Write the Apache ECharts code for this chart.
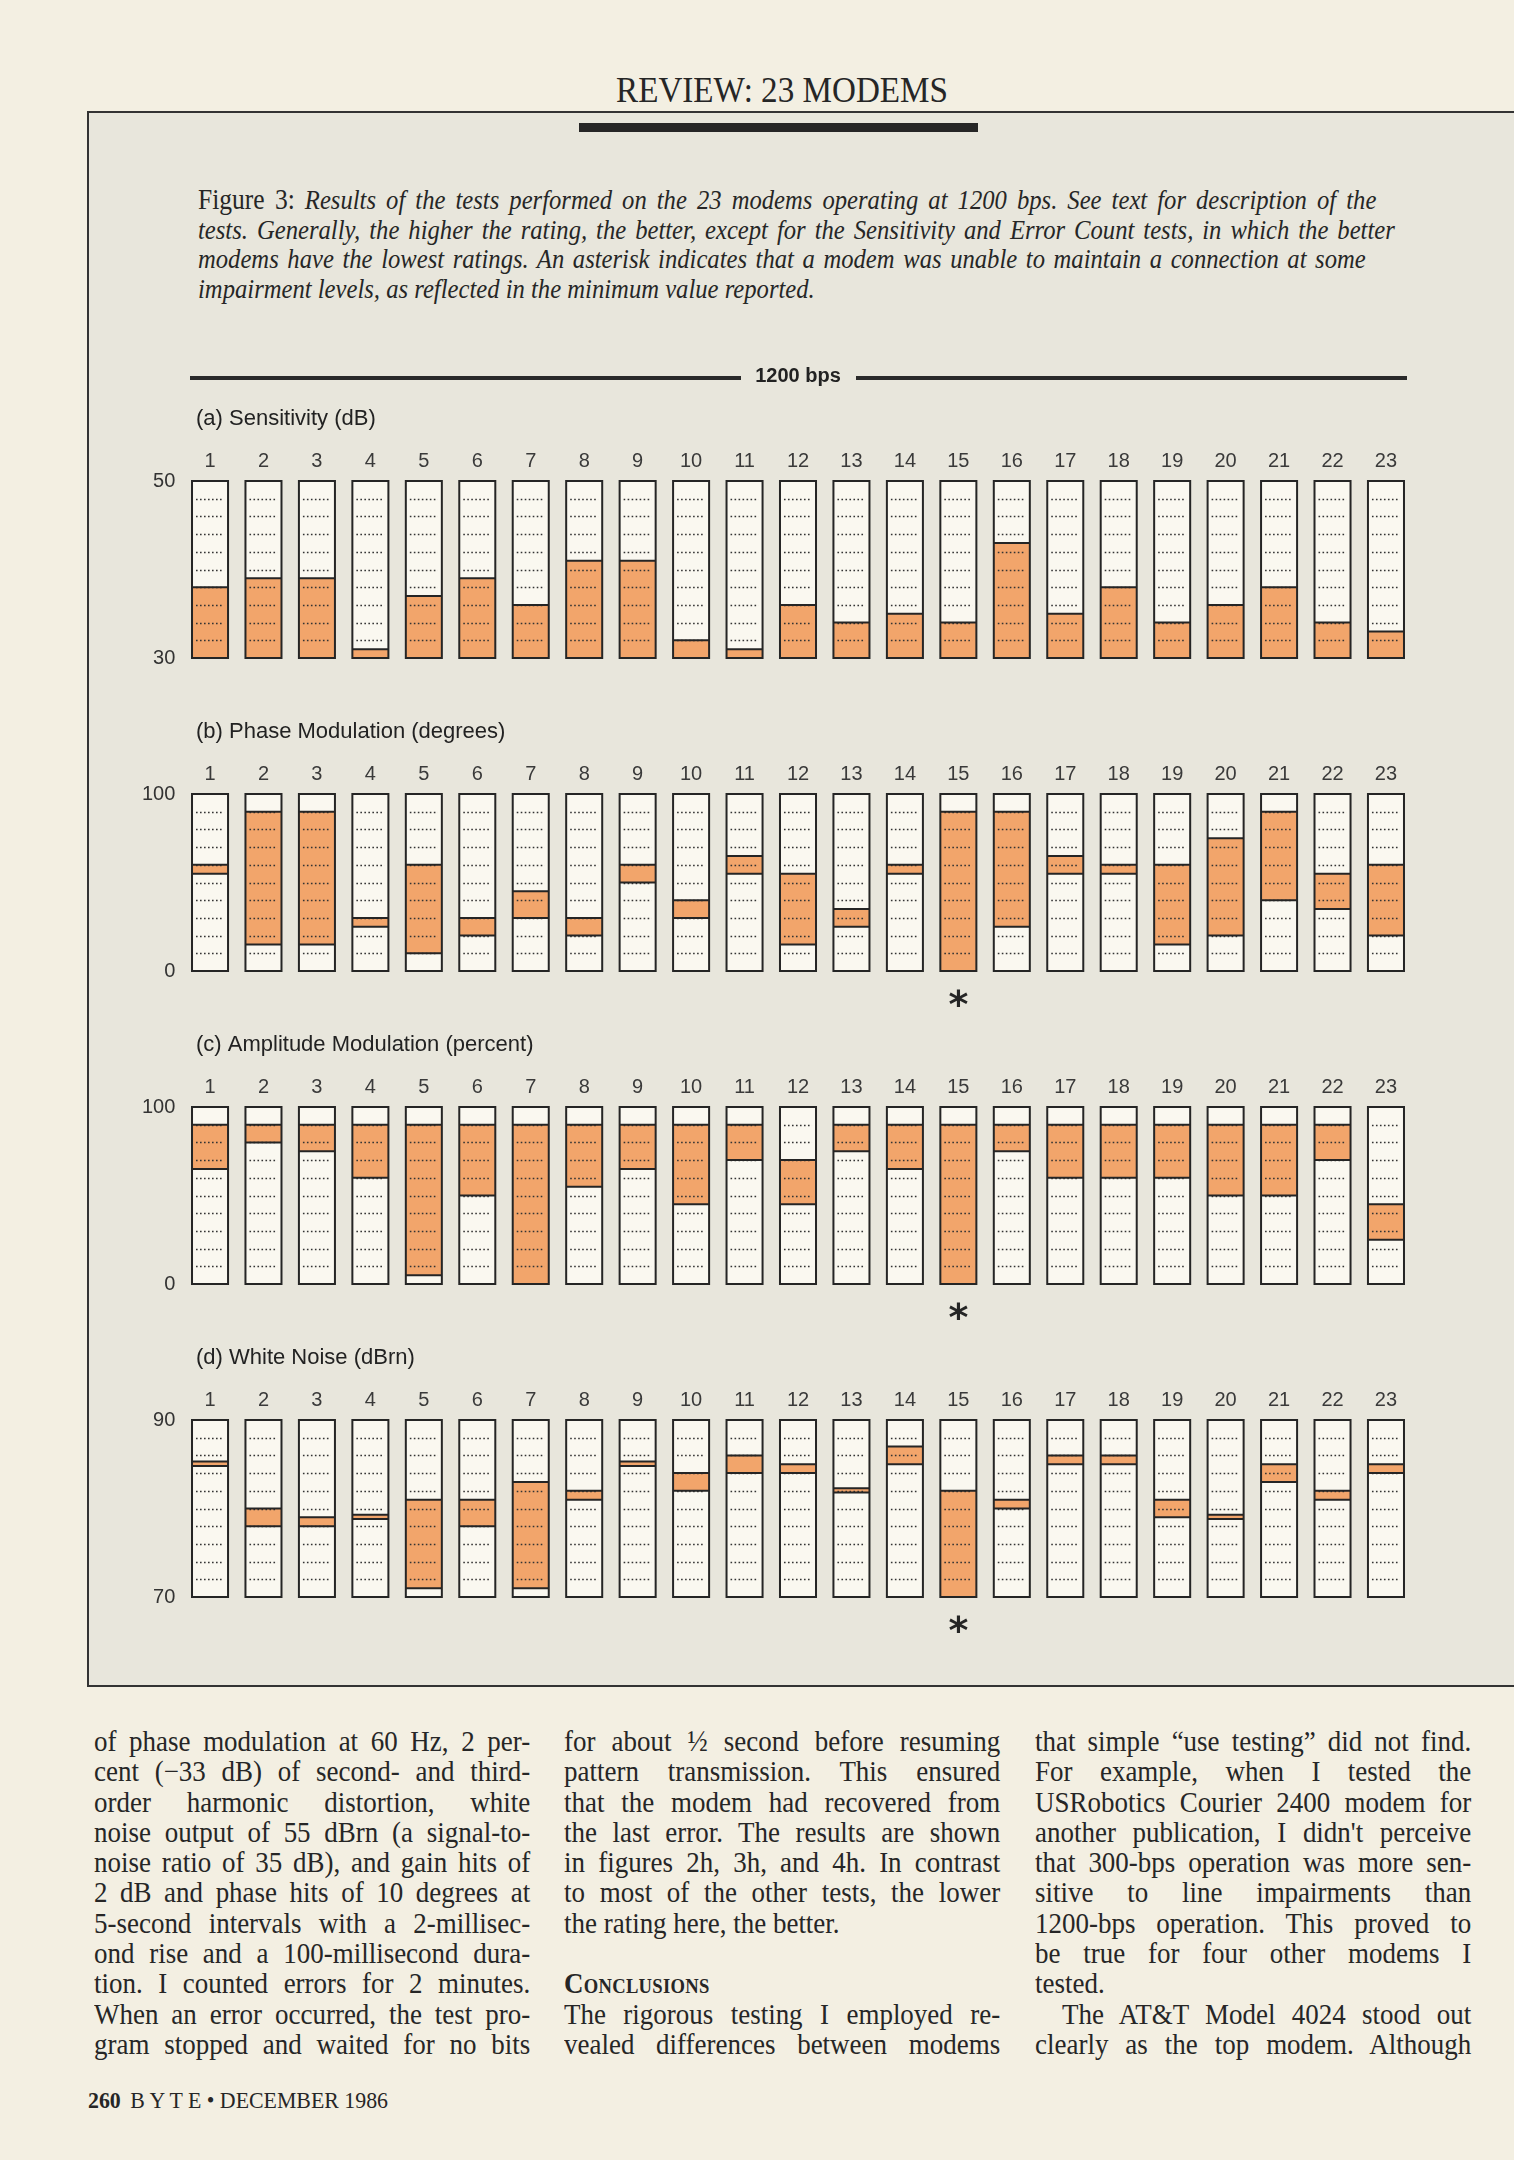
<!DOCTYPE html>
<html>
<head>
<meta charset="utf-8">
<script src="https://cdn.jsdelivr.net/npm/echarts@6/dist/echarts.min.js"></script>
<style>
  html, body { margin: 0; padding: 0; }
  #page { position: relative; width: 1514px; height: 2160px; background: #f3efe2; overflow: hidden; color: #262626; }
  #header { position: absolute; left: 482px; width: 600px; top: 71px; text-align: center; font: 36px/38px "Liberation Serif", serif; transform: scaleX(0.92); transform-origin: 300px 0; }
  #figbox { position: absolute; left: 87px; top: 111px; width: 1500px; height: 1572px; background: #e8e6dc; border-top: 2px solid #333; border-left: 2px solid #333; border-bottom: 2px solid #333; }
  #thickbar { position: absolute; left: 579px; top: 123px; width: 399px; height: 9px; background: #262626; }
  #caption { position: absolute; left: 198px; top: 185px; font: italic 28px/29.5px "Liberation Serif", serif; transform: scaleX(0.88); transform-origin: 0 0; }
  #caption .fig { font-style: normal; font-size: 29px; }
  .ln { height: 29.5px; overflow: visible; white-space: normal; }
  .j { text-align: justify; text-align-last: justify; }
  .col { position: absolute; top: 1726px; width: 469px; font: 29px/30.3px "Liberation Serif", serif; transform: scaleX(0.93); transform-origin: 0 0; }
  .col .ln { height: 30.3px; }
  .sc { font-weight: bold; font-variant: small-caps; letter-spacing: 0.3px; }
  #footer { position: absolute; left: 88px; top: 2087px; font: 23px/28px "Liberation Serif", serif; transform: scaleX(0.95); transform-origin: 0 0; }
  #footer b { font-size: 23px; margin-right: 10px; }
  #chart { position: absolute; left: 0; top: 0; width: 1514px; height: 2160px; z-index: 5; }
</style>
</head>
<body>
<div id="page">
  <div id="header">REVIEW: 23 MODEMS</div>
  <div id="figbox"></div>
  <div id="thickbar"></div>
  <div id="caption">
    <div class="ln j" style="width:1339px"><span class="fig">Figure 3:</span> Results of the tests performed on the 23 modems operating at 1200 bps. See text for description of the</div>
    <div class="ln j" style="width:1360px">tests. Generally, the higher the rating, the better, except for the Sensitivity and Error Count tests, in which the better</div>
    <div class="ln j" style="width:1327px">modems have the lowest ratings. An asterisk indicates that a modem was unable to maintain a connection at some</div>
    <div class="ln">impairment levels, as reflected in the minimum value reported.</div>
  </div>
  <div class="col" style="left:94px">
    <div class="ln j">of phase modulation at 60 Hz, 2 per-</div>
    <div class="ln j">cent (−33 dB) of second- and third-</div>
    <div class="ln j">order harmonic distortion, white</div>
    <div class="ln j">noise output of 55 dBrn (a signal-to-</div>
    <div class="ln j">noise ratio of 35 dB), and gain hits of</div>
    <div class="ln j">2 dB and phase hits of 10 degrees at</div>
    <div class="ln j">5-second intervals with a 2-millisec-</div>
    <div class="ln j">ond rise and a 100-millisecond dura-</div>
    <div class="ln j">tion. I counted errors for 2 minutes.</div>
    <div class="ln j">When an error occurred, the test pro-</div>
    <div class="ln j">gram stopped and waited for no bits</div>
  </div>
  <div class="col" style="left:564px">
    <div class="ln j">for about ½ second before resuming</div>
    <div class="ln j">pattern transmission. This ensured</div>
    <div class="ln j">that the modem had recovered from</div>
    <div class="ln j">the last error. The results are shown</div>
    <div class="ln j">in figures 2h, 3h, and 4h. In contrast</div>
    <div class="ln j">to most of the other tests, the lower</div>
    <div class="ln">the rating here, the better.</div>
    <div class="ln"></div>
    <div class="ln sc">Conclusions</div>
    <div class="ln j">The rigorous testing I employed re-</div>
    <div class="ln j">vealed differences between modems</div>
  </div>
  <div class="col" style="left:1035px">
    <div class="ln j">that simple “use testing” did not find.</div>
    <div class="ln j">For example, when I tested the</div>
    <div class="ln j">USRobotics Courier 2400 modem for</div>
    <div class="ln j">another publication, I didn't perceive</div>
    <div class="ln j">that 300-bps operation was more sen-</div>
    <div class="ln j">sitive to line impairments than</div>
    <div class="ln j">1200-bps operation. This proved to</div>
    <div class="ln j">be true for four other modems I</div>
    <div class="ln">tested.</div>
    <div class="ln j" style="padding-left:29px">The AT&amp;T Model 4024 stood out</div>
    <div class="ln j">clearly as the top modem. Although</div>
  </div>
  <div id="footer"><b>260</b>B Y T E &bull; DECEMBER 1986</div>
  <div id="chart"></div>
</div>
<script>
// ---- data ----
const modems = ['1','2','3','4','5','6','7','8','9','10','11','12','13','14','15','16','17','18','19','20','21','22','23'];

const sensLow  = [30,30,30,30,30,30,30,30,30,30,30,30,30,30,30,30,30,30,30,30,30,30,30];
const sensHigh = [38,39,39,31,37,39,36,41,41,32,31,36,34,35,34,43,35,38,34,36,38,34,33];

const phaseLow  = [55,15,15,25,10,20,30,20,50,30,55,15,25,55,0,25,55,55,15,20,40,35,20];
const phaseHigh = [60,90,90,30,60,30,45,30,60,40,65,55,35,60,90,90,65,60,60,75,90,55,60];

const ampLow  = [65,80,75,60,5,50,0,55,65,45,70,45,75,65,0,75,60,60,60,50,50,70,25];
const ampHigh = [90,90,90,90,90,90,90,90,90,90,90,70,90,90,90,90,90,90,90,90,90,90,45];

const noiseLow  = [84.8,78,78,78.8,71,78,71,81,84.8,82,84,84,81.8,85,70,80,85,85,79,78.8,83,81,84];
const noiseHigh = [85.3,80,79,79.3,81,81,83,82,85.3,84,86,85,82.3,87,82,81,86,86,81,79.3,85,82,85];

const sensFlags  = [];
const phaseFlags = ['15'];
const ampFlags   = ['15'];
const noiseFlags = ['15'];

const panelTitles = ['(a) Sensitivity (dB)', '(b) Phase Modulation (degrees)', '(c) Amplitude Modulation (percent)', '(d) White Noise (dBrn)'];
const axisMin  = [30, 0, 0, 70];
const axisMax  = [50, 100, 100, 90];
const axisStep = [2, 10, 10, 2];

// ---- layout ----
const gridTops = [481, 794, 1107, 1420];
const gridH = 177;
const gridLeft = 183.3, gridRight = 101.3;
const ORANGE = '#f2a56b';
const INK = '#252525';
const FONT = '"Liberation Sans", Arial, sans-serif';

const panels = [
  { low: sensLow,  high: sensHigh,  flags: sensFlags },
  { low: phaseLow, high: phaseHigh, flags: phaseFlags },
  { low: ampLow,   high: ampHigh,   flags: ampFlags },
  { low: noiseLow, high: noiseHigh, flags: noiseFlags }
];

function makeRender(k) {
  const mn = axisMin[k], mx = axisMax[k], st = axisStep[k], flags = panels[k].flags;
  return function (params, api) {
    const idx = api.value(0);
    const lo = api.value(1), hi = api.value(2);
    const half = api.size([1, 0])[0] * 0.337;
    const cx = api.coord([idx, mn])[0];
    const yB = api.coord([idx, mn])[1];
    const yT = api.coord([idx, mx])[1];
    const yLo = api.coord([idx, lo])[1];
    const yHi = api.coord([idx, hi])[1];
    const ch = [];
    ch.push({ type: 'rect', shape: { x: cx - half, y: yT, width: 2 * half, height: yB - yT }, style: { fill: '#faf8f0' } });
    ch.push({ type: 'rect', shape: { x: cx - half, y: yHi, width: 2 * half, height: yLo - yHi }, style: { fill: ORANGE } });
    for (let n = 1; mn + n * st < mx - 1e-9; n++) {
      const y = Math.round(api.coord([idx, mn + n * st])[1]) + 0.5;
      ch.push({ type: 'line', shape: { x1: cx - half + 4, y1: y, x2: cx + half - 4, y2: y },
        style: { stroke: '#333', lineWidth: 1.6, lineDash: [1.6, 2.4] } });
    }
    if (lo > mn) ch.push({ type: 'line', shape: { x1: cx - half, y1: yLo, x2: cx + half, y2: yLo }, style: { stroke: INK, lineWidth: 2 } });
    if (hi < mx) ch.push({ type: 'line', shape: { x1: cx - half, y1: yHi, x2: cx + half, y2: yHi }, style: { stroke: INK, lineWidth: 2 } });
    ch.push({ type: 'rect', shape: { x: cx - half, y: yT, width: 2 * half, height: yB - yT }, style: { fill: 'none', stroke: INK, lineWidth: 2 } });
    if (flags.indexOf(modems[idx]) >= 0) {
      ch.push({ type: 'text', style: { text: '*', x: cx, y: yB + 36, align: 'center', verticalAlign: 'middle',
        font: 'bold 38px "DejaVu Sans", sans-serif', fill: INK } });
    }
    return { type: 'group', children: ch };
  };
}

const grids = [], xAxes = [], yAxes = [], series = [], graphics = [];
for (let k = 0; k < 4; k++) {
  grids.push({ left: gridLeft, right: gridRight, top: gridTops[k], height: gridH });
  xAxes.push({ type: 'category', gridIndex: k, data: modems, position: 'top',
    axisLine: { show: false }, axisTick: { show: false }, splitLine: { show: false },
    axisLabel: { interval: 0, margin: 10, fontSize: 20, color: '#3a3a3a', fontFamily: FONT } });
  const mn = axisMin[k], mx = axisMax[k];
  yAxes.push({ type: 'value', gridIndex: k, min: mn, max: mx, interval: axisStep[k],
    axisLine: { show: false }, axisTick: { show: false }, splitLine: { show: false },
    axisLabel: { margin: 8, fontSize: 20, color: '#333', fontFamily: FONT,
      formatter: function (v) { return (Math.abs(v - mn) < 1e-6 || Math.abs(v - mx) < 1e-6) ? String(v) : ''; } } });
  series.push({ type: 'custom', xAxisIndex: k, yAxisIndex: k, silent: true, clip: false,
    data: modems.map(function (m, i) { return [m, panels[k].low[i], panels[k].high[i]]; }),
    encode: { x: 0, y: [1, 2] }, renderItem: makeRender(k) });
  graphics.push({ type: 'text', style: { text: panelTitles[k], x: 196, y: gridTops[k] - 62, verticalAlign: 'middle',
    font: '22px ' + FONT, fill: '#222' } });
}
// "1200 bps" rule
graphics.push({ type: 'rect', shape: { x: 190, y: 376, width: 551, height: 4 }, style: { fill: '#2a2a2a' } });
graphics.push({ type: 'rect', shape: { x: 856, y: 376, width: 551, height: 4 }, style: { fill: '#2a2a2a' } });
graphics.push({ type: 'text', style: { text: '1200 bps', x: 798, y: 376, align: 'center', verticalAlign: 'middle',
  font: 'bold 20px ' + FONT, fill: '#222' } });

const chart = echarts.init(document.getElementById('chart'), null, { renderer: 'canvas' });
chart.setOption({
  animation: false,
  backgroundColor: 'transparent',
  grid: grids, xAxis: xAxes, yAxis: yAxes, series: series, graphic: graphics
});
</script>
</body>
</html>
